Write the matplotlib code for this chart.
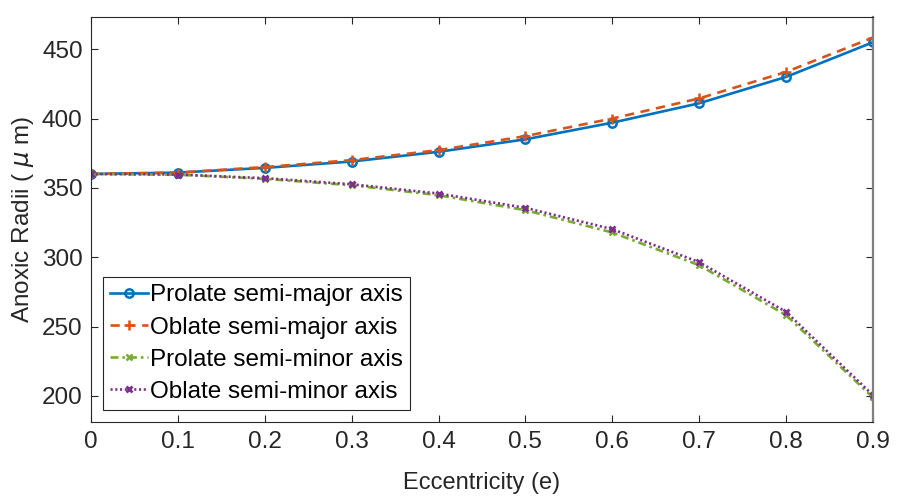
import matplotlib.pyplot as plt
import numpy as np

plt.rcParams['font.family'] = ['Liberation Sans', 'DejaVu Sans']
plt.rcParams['mathtext.fontset'] = 'dejavusans'

ecc = [0, 0.1, 0.2, 0.3, 0.4, 0.5, 0.6, 0.7, 0.8, 0.9]
prolate_major = [360, 361, 364.4, 369, 376, 385, 397, 411, 430, 455]
oblate_major = [360, 361, 365, 370, 377.2, 387.3, 400, 414.5, 433.6, 458.4]
prolate_minor = [360, 359.5, 356.5, 351.9, 344.7, 333.9, 317.8, 294.2, 258.2, 198.8]
oblate_minor = [360, 359.6, 357, 352.6, 345.9, 335.6, 320.2, 296.4, 260.6, 200.5]
labels = ["Prolate semi-major axis", "Oblate semi-major axis",
          "Prolate semi-minor axis", "Oblate semi-minor axis"]

fs = 17.5

fig = plt.figure(figsize=(8.99, 4.97), dpi=100)
ax = fig.add_axes([0.1012, 0.150, 0.8698, 0.816])

ax.plot(ecc, prolate_major, color="#0072BD", lw=1.9, marker="o", ms=6,
        mfc="none", mew=1.8, label=labels[0])
ax.plot(ecc, oblate_major, color="#D95319", lw=1.9, ls=(0, (3.5, 2.5)), marker="+",
        ms=7, mew=1.8, label=labels[1])
ax.plot(ecc, prolate_minor, color="#77AC30", lw=1.9, ls=(0, (3, 1.5, 1, 1.5)), marker="x",
        ms=4, mew=1.8, label=labels[2])
ax.plot(ecc, oblate_minor, color="#7E2F8E", lw=1.9, ls=(0, (0.8, 1.0)), marker="x",
        ms=5, mew=2.0, label=labels[3])

ax.set_xlim(0, 0.9)
ax.set_ylim(180.8, 473.3)
ax.set_xticks(ecc)
ax.set_xticklabels(["0", "0.1", "0.2", "0.3", "0.4", "0.5", "0.6", "0.7", "0.8", "0.9"])
ax.set_yticks([200, 250, 300, 350, 400, 450])

ax.tick_params(direction="in", top=True, right=True, labelsize=fs,
               colors="#262626", length=5, width=0.8, pad=6)
for s in ax.spines.values():
    s.set_color("#262626")
    s.set_linewidth(0.8)
ax.spines["right"].set_color("#808080")
ax.spines["right"].set_linewidth(1.6)

ax.set_xlabel("Eccentricity (e)", fontsize=17, color="#262626", labelpad=14)
ax.set_ylabel(r"Anoxic Radii ( $\mu$ m)", fontsize=fs, color="#262626", labelpad=4)

leg = ax.legend(loc="lower left", bbox_to_anchor=(0.015, 0.03), fontsize=fs,
                handlelength=1.55, handletextpad=0.1, borderpad=0.3, labelspacing=0.42,
                borderaxespad=0, fancybox=False, framealpha=1)
leg.get_frame().set_edgecolor("#262626")
leg.get_frame().set_linewidth(0.8)

fig.savefig("out.png", dpi=100)
